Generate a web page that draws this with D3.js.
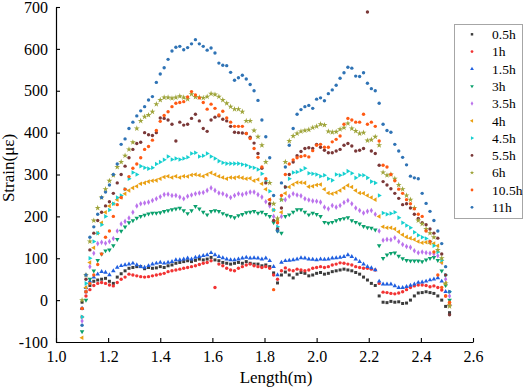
<!DOCTYPE html>
<html><head><meta charset="utf-8">
<script src="https://cdn.jsdelivr.net/npm/d3@7"></script>
<style>body{margin:0;background:#fff}svg{display:block}
svg text{font-family:"Liberation Serif","Times New Roman",Tinos,"DejaVu Serif",serif !important;}</style>
</head><body><svg id="c" width="526" height="390"></svg>
<script>
// Length positions (m)
const lengths = [1.100,1.115,1.130,1.145,1.160,1.175,1.190,1.205,1.220,1.235,
1.250,1.265,1.280,1.295,1.310,1.325,1.340,1.355,1.370,1.385,
1.400,1.415,1.430,1.445,1.460,1.475,1.490,1.505,1.520,1.535,
1.550,1.565,1.580,1.595,1.610,1.625,1.640,1.655,1.670,1.685,
1.700,1.715,1.730,1.745,1.760,1.775,1.790,1.805,1.820,1.835,
1.850,1.865,1.880,1.895,1.910,1.925,1.940,1.955,1.970,1.985,
2.000,2.015,2.030,2.045,2.060,2.075,2.090,2.105,2.120,2.135,
2.150,2.165,2.180,2.195,2.210,2.225,2.240,2.255,2.270,2.285,
2.300,2.315,2.330,2.345,2.360,2.375,2.390,2.405,2.420,2.435,
2.450,2.465,2.480,2.495,2.510];

const seriesNames = ["0.5h","1h","1.5h","3h","3.5h","4h","4.5h","5.5h","6h","10.5h","11h"];

const strain05h = [-5,20,35,45,48,50,52,45,40,55,
63,70,76,78,80,80,75,78,76,77,
80,78,82,84,88,90,92,94,92,95,
98,96,98,102,96,94,90,88,86,88,
90,88,92,88,86,86,82,84,80,65,
41,60,67,60,53,62,66,64,58,60,
64,66,62,64,68,70,72,74,72,70,
66,62,55,48,40,35,10,-5,-6,-3,
-5,-4,-8,-7,0,10,17,18,20,18,
16,10,0,-15,-30];

const strain1h = [-40,10,25,35,40,42,40,36,34,42,
50,55,62,60,58,56,55,56,58,60,
62,64,68,70,72,74,76,78,80,82,
85,88,90,94,30,86,82,76,72,70,
76,80,84,86,82,80,78,80,76,60,
50,70,77,72,70,74,72,70,72,76,
78,80,78,80,84,86,89,88,86,84,
80,78,76,76,74,72,40,19,18,16,
15,17,20,25,30,34,36,36,35,32,
34,30,24,10,-10];

const strain15h = [-20,30,45,55,62,68,66,60,70,78,
82,84,86,88,84,80,78,82,86,88,
90,88,90,92,96,96,98,100,98,102,
104,106,108,113,108,104,101,98,96,96,
98,100,102,100,101,100,98,100,94,80,
60,90,94,95,96,98,101,100,98,97,
96,98,97,98,100,101,102,104,108,104,
98,92,86,80,77,72,45,38,38,38,
34,30,30,32,35,38,42,43,45,48,
50,53,45,20,-10];

const strain3h = [-75,0,50,70,95,110,118,120,130,145,
165,175,185,190,196,200,203,206,208,208,
209,212,214,216,218,220,214,207,214,224,
218,210,204,212,214,212,207,203,200,197,
202,205,209,210,212,208,210,205,200,185,
165,160,200,204,210,216,216,210,204,208,
205,200,186,184,186,190,193,195,197,190,
186,182,176,173,172,168,130,100,108,112,
113,105,99,95,94,94,94,92,96,100,
102,95,70,35,0];

const strain35h = [-50,20,80,112,135,138,136,140,147,165,
182,188,196,210,225,230,232,234,238,242,
247,252,253,250,250,246,242,248,251,254,
256,257,262,268,262,256,254,250,245,250,
254,252,255,258,258,252,246,235,225,200,
185,200,240,248,254,251,249,242,239,237,
236,234,222,218,226,222,226,233,238,230,
220,214,208,212,214,205,165,143,145,144,
149,140,133,128,126,118,113,115,113,112,
110,106,90,50,10];

const strain4h = [-90,30,90,125,160,185,210,225,230,240,
245,254,262,268,272,278,280,283,285,286,
290,294,296,293,296,293,296,295,299,300,
298,296,300,304,300,296,293,290,293,292,
294,292,290,291,285,288,278,265,240,215,
190,210,255,270,276,281,281,280,271,272,
275,276,265,256,254,257,262,268,274,270,
262,256,255,250,245,240,200,175,173,173,
170,163,156,151,148,145,140,137,138,136,
135,130,90,40,-10];

const strain45h = [-40,40,100,140,160,180,200,215,230,245,
250,265,290,305,300,320,316,314,316,325,
330,335,343,336,338,336,338,341,350,352,
343,345,350,343,338,332,328,326,326,326,
326,324,322,318,316,312,302,285,260,215,
175,240,270,290,305,306,310,315,303,302,
300,296,298,290,286,300,298,302,308,303,
292,298,298,292,283,280,250,208,205,207,
210,197,185,178,173,162,155,150,147,140,
130,115,95,60,20];

const strain55h = [-20,50,120,160,190,210,225,235,255,280,
300,320,340,360,374,377,400,395,393,400,
435,434,430,420,380,425,418,420,434,444,
428,410,403,430,437,440,432,428,415,401,
400,399,398,389,375,350,315,280,230,190,
170,220,270,300,330,345,355,362,364,362,
372,365,358,352,352,356,360,370,374,368,
356,358,362,688,356,350,322,283,275,266,
255,243,228,230,220,205,195,185,180,170,
160,148,110,60,-35];

const strain6h = [0,60,140,190,220,245,265,285,298,318,
330,345,360,377,410,428,438,442,450,468,
478,484,484,482,484,487,484,480,492,485,
484,483,486,493,491,486,478,470,462,456,
456,450,428,428,405,390,370,330,280,230,
195,240,330,380,392,398,403,405,407,412,
415,420,418,403,401,402,408,412,422,410,
404,398,400,381,383,390,370,305,298,300,
290,275,265,250,240,220,190,182,170,160,
150,120,100,40,-15];

const strain105h = [-20,20,40,60,85,110,150,165,200,228,
245,265,295,315,325,340,360,367,382,405,
427,441,450,462,470,472,474,485,498,490,
483,472,456,468,458,442,451,435,425,415,
415,415,398,386,362,341,318,290,240,25,
185,250,300,325,335,340,343,345,342,357,
370,372,365,365,378,384,392,420,434,430,
425,425,444,420,425,415,380,322,318,300,
285,265,255,240,230,218,205,200,165,140,
115,60,30,10,-5];

const strain11h = [-60,60,150,175,205,245,258,275,300,325,
372,385,410,425,440,452,462,478,486,520,
540,555,575,595,604,606,598,603,612,622,
612,606,597,602,590,566,561,560,544,525,
531,537,528,515,500,477,430,390,340,250,
165,280,318,370,410,444,455,462,465,458,
480,483,476,493,502,513,530,543,556,554,
535,534,543,518,505,500,470,420,405,401,
372,356,341,323,296,292,290,255,231,212,
190,165,135,80,20];

const xTicks = [1.0,1.2,1.4,1.6,1.8,2.0,2.2,2.4,2.6];
const yTicks = [-100,0,100,200,300,400,500,600,700];

const allSeries = [strain05h,strain1h,strain15h,strain3h,strain35h,strain4h,strain45h,strain55h,strain6h,strain105h,strain11h];
const colors = ["#3c3c3c","#f23333","#1f5fe0","#0aa06c","#bb72ec","#eaa012","#16d0d0","#7a3838","#9ea43a","#ff5a14","#2f73b5"];
const shapes = [
  {t:d3.symbolSquare, r:0},{t:d3.symbolCircle, r:0},{t:d3.symbolTriangle, r:0},
  {t:d3.symbolTriangle, r:180},{t:d3.symbolDiamond, r:0},{t:d3.symbolTriangle, r:-90},
  {t:d3.symbolTriangle, r:90},{t:d3.symbolCircle, r:0},{t:d3.symbolStar, r:0},
  {t:d3.symbolCircle, r:0},{t:d3.symbolCircle, r:0}];

const font = "Liberation Serif";
const svg = d3.select("#c");
const x = d3.scaleLinear().domain([1.0,2.6]).range([56,473]);
const y = d3.scaleLinear().domain([-100,700]).range([342,7]);

// points
allSeries.forEach((vals, si) => {
  const sym = d3.symbol().type(shapes[si].t).size(shapes[si].t===d3.symbolStar?11:9);
  svg.append("g").selectAll("path").data(vals).join("path")
    .attr("d", sym)
    .attr("transform", (d,i) => `translate(${x(lengths[i])},${y(d)}) rotate(${shapes[si].r})`)
    .attr("fill", colors[si]);
});

// axes
const xAxis = d3.axisBottom(x).tickValues(xTicks).tickFormat(d3.format(".1f"))
  .tickSizeInner(-4).tickSizeOuter(0).tickPadding(9);
const yAxis = d3.axisLeft(y).tickValues(yTicks).tickFormat(d => String(d))
  .tickSizeInner(-4).tickSizeOuter(0).tickPadding(8);
const gx = svg.append("g").attr("transform","translate(0,342)").call(xAxis);
const gy = svg.append("g").attr("transform","translate(56,0)").call(yAxis);
[gx,gy].forEach(g => {
  g.attr("font-family",font).attr("font-size",16);
  g.selectAll("text").attr("fill","#000");
  g.selectAll("line").attr("stroke","#000").attr("stroke-width",1.1);
  g.select(".domain").attr("stroke","#000").attr("stroke-width",1.2);
});

svg.append("text").attr("x",276).attr("y",383).attr("text-anchor","middle")
  .attr("font-family",font).attr("font-size",17).text("Length(m)");
svg.append("text").attr("transform","translate(14,168) rotate(-90)").attr("text-anchor","middle")
  .attr("font-family",font).attr("font-size",17).text("Strain(με)");

// legend
const lg = svg.append("g");
lg.append("rect").attr("x",454.5).attr("y",24.5).attr("width",68).attr("height",194)
  .attr("fill","#fff").attr("stroke","#a6a6a6").attr("stroke-width",1);
seriesNames.forEach((n,i) => {
  const cy = 34.3 + i*17.3;
  lg.append("path").attr("d", d3.symbol().type(shapes[i].t).size(6))
    .attr("transform",`translate(472,${cy}) rotate(${shapes[i].r})`).attr("fill",colors[i]);
  lg.append("text").attr("x",492).attr("y",cy).attr("dy","0.35em")
    .attr("font-family",font).attr("font-size",13.5).text(n);
});
</script>
</body></html>
